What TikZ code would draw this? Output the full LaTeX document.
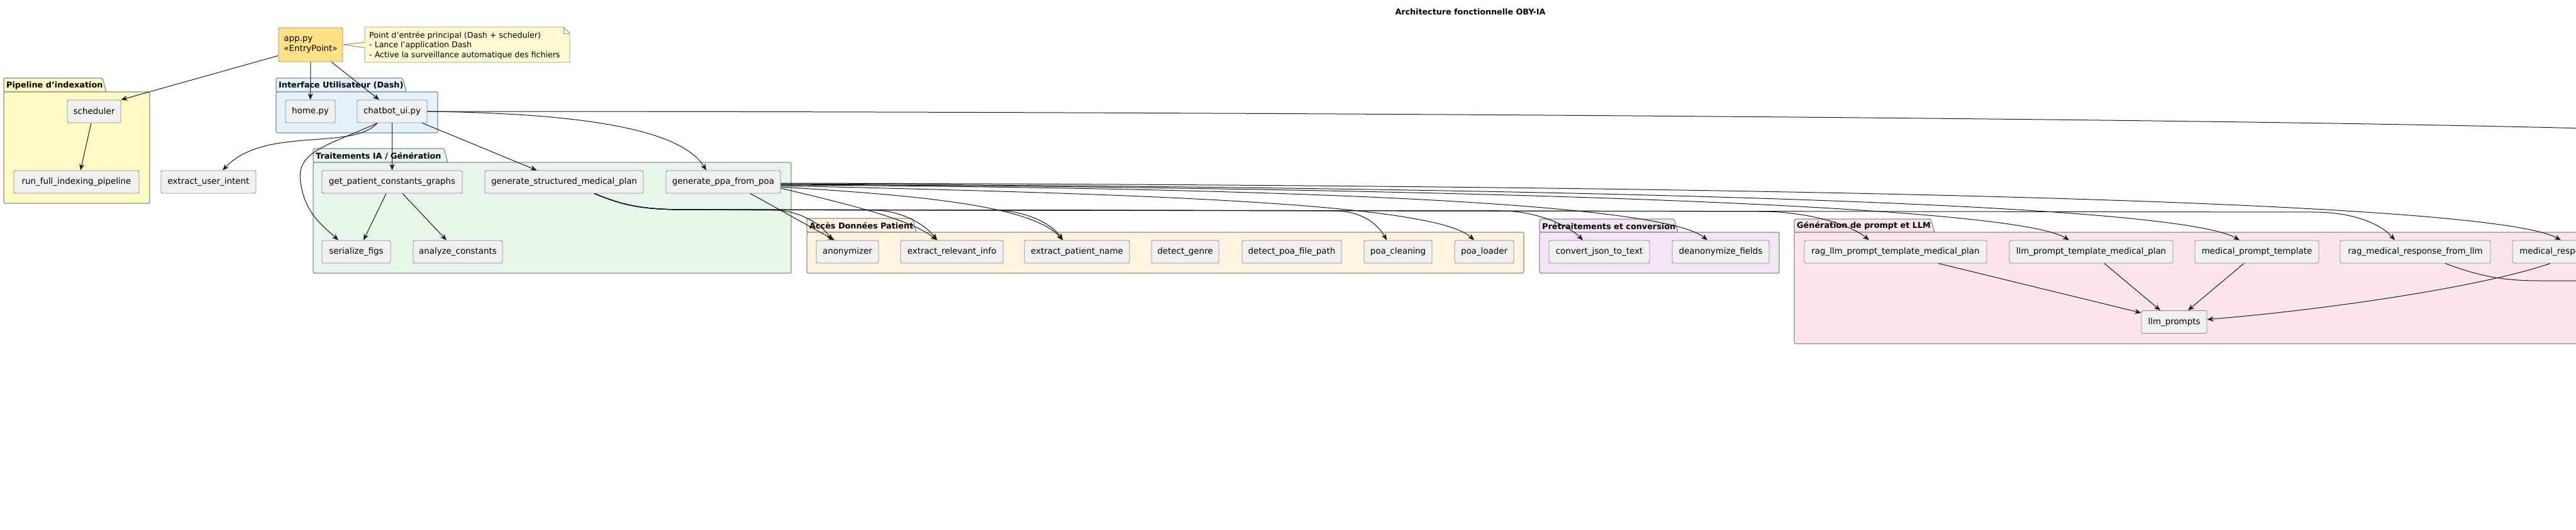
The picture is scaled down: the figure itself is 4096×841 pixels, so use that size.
\documentclass[tikz,border=0pt]{standalone}
\usepackage{fontspec}
\setmainfont{DejaVu Sans}
\usetikzlibrary{arrows.meta}
\definecolor{boxfill}{HTML}{F1F1F1}
\definecolor{boxline}{HTML}{8A8A8A}
\definecolor{grpline}{HTML}{8C8C8C}
\definecolor{edgecol}{HTML}{181818}
\definecolor{cPipe}{HTML}{FFF9C4}
\definecolor{cUI}{HTML}{E3F2FD}
\definecolor{cIA}{HTML}{E8F5E9}
\definecolor{cData}{HTML}{FFF3E0}
\definecolor{cPre}{HTML}{F3E5F5}
\definecolor{cGen}{HTML}{FCE4EC}
\definecolor{cApp}{HTML}{FFE082}
\definecolor{cNote}{HTML}{FEF9D0}
\begin{document}
\begin{tikzpicture}[x=1pt,y=-1pt,
  box/.style={draw=boxline, fill=boxfill, rounded corners=2.5pt, line width=0.9pt, minimum height=36pt, inner sep=0pt, font=\fontsize{13.4}{16}\selectfont},
  grp/.style={draw=grpline, line width=1.3pt, rounded corners=2.5pt},
  grptitle/.style={anchor=west, inner sep=0pt, font=\bfseries\fontsize{12.8}{15}\selectfont},
  edge/.style={draw=edgecol, line width=1pt, -{Stealth[length=10pt,width=8pt,inset=3pt]}},
  plainedge/.style={draw=edgecol, line width=1pt}]
\useasboundingbox (0,0) rectangle (4096,841);
\clip (0,0) rectangle (4096,841);

% title
\node[font=\bfseries\fontsize{12.7}{15}\selectfont, inner sep=0pt] (title) at (2338,19) {Architecture fonctionnelle OBY-IA};

% groups
\path[grp, fill=cPipe] (6,146) -- (6,124) -- (163,124) -- (169,146) -- cycle;
\path[grp, fill=cPipe] (6,146) rectangle (238,323);
\node[grptitle] (tPipe) at (10,135.5) {Pipeline d'indexation};

\path[grp, fill=cUI] (439,146) -- (439,124) -- (640,124) -- (646,146) -- cycle;
\path[grp, fill=cUI] (439,146) rectangle (696,211);
\node[grptitle] (tUI) at (443,135.5) {Interface Utilisateur (Dash)};

\path[grp, fill=cIA] (498,258) -- (498,236) -- (706,236) -- (712,258) -- cycle;
\path[grp, fill=cIA] (498,258) rectangle (1258,434);
\node[grptitle] (tIA) at (502,247.5) {Traitements IA / Génération};

\path[grp, fill=cData] (1283,369) -- (1283,347) -- (1451,347) -- (1457,369) -- cycle;
\path[grp, fill=cData] (1283,369) rectangle (2423,434);
\node[grptitle] (tData) at (1287,358.5) {Accès Données Patient};

\path[grp, fill=cPre] (2448,369) -- (2448,348) -- (2662,348) -- (2668,369) -- cycle;
\path[grp, fill=cPre] (2448,369) rectangle (2829,434);
\node[grptitle] (tPre) at (2452,359) {Prétraitements et conversion};

\path[grp, fill=cGen] (2853,369) -- (2853,348) -- (3070,348) -- (3076,369) -- cycle;
\path[grp, fill=cGen] (2853,369) rectangle (4300,546);
\node[grptitle] (tGen) at (2857,359) {Génération de prompt et LLM};

% note
\path[draw=boxline, fill=cNote, line width=0.9pt] (580,43) -- (896,43) -- (906,53) -- (906,99) -- (580,99) -- (580,76) -- (546,71) -- (580,67) -- cycle;
\path[draw=boxline, line width=0.9pt] (896,43) -- (896,53) -- (906,53);
\node[anchor=north west, align=left, inner sep=0pt, font=\fontsize{12.6}{15.5}\selectfont] (note) at (587,50) {Point d'entrée principal (Dash + scheduler)\\- Lance l'application Dash\\- Active la surveillance automatique des fichiers};

% nodes
\node[box, fill=cApp, minimum width=102pt, minimum height=54pt, align=left] (app) at (494,71) {app.py\\«EntryPoint»};
\node[box, minimum width=85pt] (sched) at (149.5,177) {scheduler};
\node[box, minimum width=199pt] (runfull) at (121.5,289) {run\_full\_indexing\_pipeline};
\node[box, minimum width=79pt] (home) at (493.5,177) {home.py};
\node[box, minimum width=111pt] (chat) at (623.5,177) {chatbot\_ui.py};
\node[box, minimum width=151pt] (intent) at (331.5,289) {extract\_user\_intent};
\node[box, minimum width=223pt] (gpcg) at (623.5,289) {get\_patient\_constants\_graphs};
\node[box, minimum width=252pt] (gsmp) at (897,289) {generate\_structured\_medical\_plan};
\node[box, minimum width=182pt] (gppa) at (1150,289) {generate\_ppa\_from\_poa};
\node[box, minimum width=109pt] (serial) at (566.5,400) {serialize\_figs};
\node[box, minimum width=142pt] (analyze) at (728,400) {analyze\_constants};
\node[box, minimum width=99pt] (anon) at (1347.5,400) {anonymizer};
\node[box, minimum width=163pt] (eri) at (1513.5,400) {extract\_relevant\_info};
\node[box, minimum width=167pt] (epn) at (1712.5,400) {extract\_patient\_name};
\node[box, minimum width=107pt] (genre) at (1884.5,400) {detect\_genre};
\node[box, minimum width=158pt] (poapath) at (2054,400) {detect\_poa\_file\_path};
\node[box, minimum width=108pt] (poaclean) at (2223,400) {poa\_cleaning};
\node[box, minimum width=94pt] (poaload) at (2360,400) {poa\_loader};
\node[box, minimum width=160pt] (convjson) at (2543,400) {convert\_json\_to\_text};
\node[box, minimum width=154pt] (deanon) at (2736,400) {deanonymize\_fields};
\node[box, minimum width=290pt] (ragllm) at (3014,400) {rag\_llm\_prompt\_template\_medical\_plan};
\node[box, minimum width=260pt] (llmptmp) at (3325,400) {llm\_prompt\_template\_medical\_plan};
\node[box, minimum width=197pt] (medprompt) at (3588.5,400) {medical\_prompt\_template};
\node[box, minimum width=239pt] (ragmed) at (3840.5,400) {rag\_medical\_response\_from\_llm};
\node[box, minimum width=208pt] (medresp) at (4099,400) {medical\_response\_from\_llm};
\node[box, minimum width=104pt] (llmp) at (3457,511.5) {llm\_prompts};

\coordinate (offA) at (4110,204);
\coordinate (offB) at (4110,446);

% edges: top
\draw[edge] ([yshift=10pt]app.south west) -- (sched.north east);
\draw[edge] (app.south) -- (home.north);
\draw[edge] ([xshift=33pt]app.south) -- ([xshift=-20.5pt]chat.north);
\draw[edge] ([xshift=-4.5pt]sched.south) -- ([xshift=6.5pt]runfull.north);
\draw[edge] ([xshift=-23.5pt]chat.south) .. controls (560,240) and (420,200) .. ([xshift=22.5pt]intent.north);
\draw[edge] ([xshift=-23.5pt]chat.south) .. controls (520,232) and (470,240) .. (478,290) .. controls (485,340) and (515,360) .. ([xshift=-28.5pt]serial.north);
\draw[edge] (chat.south) -- (gpcg.north);
\draw[edge] ([xshift=48pt]chat.south) -- ([xshift=-43.5pt]gsmp.north);
\draw[edge] (chat.east) .. controls (900,180) and (1080,200) .. ([xshift=-27pt]gppa.north);
\draw[plainedge] (chat.east) .. controls (2000,177) and (3500,188) .. (offA);
\draw[edge] ([xshift=-9.5pt]gpcg.south) -- ([xshift=11.5pt]serial.north);
\draw[edge] ([xshift=16.5pt]gpcg.south) -- ([xshift=-18pt]analyze.north);

% edges: generate_ppa_from_poa
\draw[edge] ([xshift=43pt]gppa.south) -- ([xshift=-20.5pt]anon.north);
\draw[edge] ([yshift=-10pt]gppa.east) .. controls (1360,327) and (1450,350) .. ([xshift=-23.5pt]eri.north);
\draw[edge] ([yshift=-8pt]gppa.east) .. controls (1450,310) and (1640,325) .. ([xshift=-22.5pt]epn.north);
\draw[edge] ([yshift=-6pt]gppa.east) .. controls (1800,308) and (2280,322) .. ([xshift=-16pt]poaload.north);
\draw[edge] ([yshift=-5pt]gppa.east) .. controls (2000,298) and (2640,320) .. ([xshift=-21pt]deanon.north);
\draw[edge] ([yshift=-4pt]gppa.east) .. controls (2300,298) and (3200,325) .. ([xshift=-35pt]llmptmp.north);
\draw[edge] ([yshift=-3pt]gppa.east) .. controls (2500,298) and (3460,322) .. ([xshift=-27.5pt]medprompt.north);
\draw[edge] ([yshift=-2pt]gppa.east) .. controls (2800,294) and (3960,318) .. ([xshift=-27pt]medresp.north);

% edges: generate_structured_medical_plan
\draw[edge] ([xshift=48pt]gsmp.south) .. controls (990,326) and (1020,333) .. (1090,333) -- (1230,334) .. controls (1270,334) and (1305,355) .. ([xshift=-24.5pt]anon.north);
\draw[edge] ([xshift=48pt]gsmp.south) .. controls (990,326) and (1020,333) .. (1090,333) -- (1390,334) .. controls (1430,334) and (1470,355) .. ([xshift=-23.5pt]eri.north);
\draw[edge] ([xshift=48pt]gsmp.south) .. controls (990,326) and (1020,333) .. (1090,333) -- (1580,334) .. controls (1630,334) and (1672,355) .. ([xshift=-22.5pt]epn.north);
\draw[edge] ([xshift=48pt]gsmp.south) .. controls (990,326) and (1020,333) .. (1090,333) -- (2120,335) .. controls (2165,335) and (2190,355) .. ([xshift=-18pt]poaclean.north);
\draw[edge] ([xshift=48pt]gsmp.south) .. controls (990,326) and (1020,333) .. (1090,333) -- (2390,335) .. controls (2440,336) and (2490,355) .. ([xshift=-26pt]convjson.north);
\draw[edge] ([xshift=48pt]gsmp.south) .. controls (990,326) and (1020,333) .. (1090,333) -- (2800,336) .. controls (2870,336) and (2940,355) .. ([xshift=-42pt]ragllm.north);
\draw[edge] ([xshift=48pt]gsmp.south) .. controls (990,326) and (1020,333) .. (1090,333) -- (3680,337) .. controls (3740,337) and (3785,355) .. ([xshift=-32.5pt]ragmed.north);

% edges: generation group
\draw[edge] ([xshift=68pt]ragllm.south) -- ([yshift=-4pt]llmp.north west);
\draw[edge] ([xshift=21pt]llmptmp.south) -- ([xshift=-22pt]llmp.north);
\draw[edge] ([xshift=-20.5pt]medprompt.south) -- ([xshift=22pt]llmp.north);
\draw[edge] ([xshift=-44pt]medresp.south) .. controls (3950,455) and (3700,492) .. ([yshift=4pt]llmp.east);
\draw[plainedge] ([xshift=47.5pt]ragmed.south) .. controls (3950,442) and (3990,446) .. (4040,446) -- (offB);
\end{tikzpicture}
\end{document}
